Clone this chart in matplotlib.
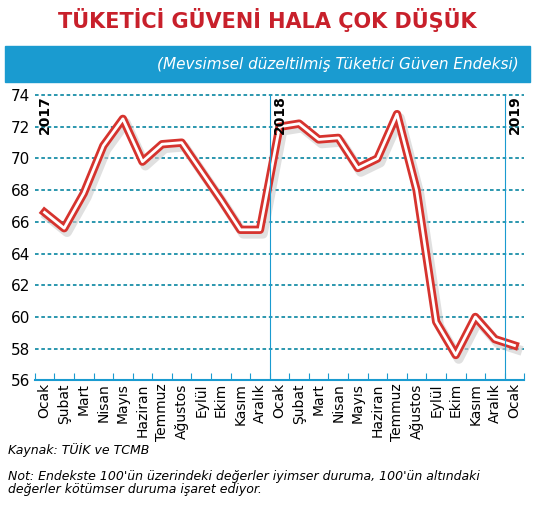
import matplotlib.pyplot as plt
import numpy as np

months = ["Ocak", "Şubat", "Mart", "Nisan", "Mayıs", "Haziran", "Temmuz", "Ağustos",
          "Eylül", "Ekim", "Kasım", "Aralık"]
labels = months + months + ["Ocak"]
values = [66.6, 65.6, 67.8, 70.8, 72.5, 69.8, 70.9, 71.0, 69.2, 67.4, 65.5, 65.5,
          72.0, 72.2, 71.2, 71.3, 69.4, 70.0, 72.8, 68.0, 59.7, 57.6, 60.0, 58.6, 58.2]
years = ["2017", "2018", "2019"]
yticks = [56, 58, 60, 62, 64, 66, 68, 70, 72, 74]

blue = "#1a9bd0"
fig = plt.figure(figsize=(5.35, 5.14), dpi=100)
fig.text(0.5, 0.962, "TÜKETİCİ GÜVENİ HALA ÇOK DÜŞÜK", ha="center", va="center",
         color="#c8202b", fontsize=15, fontweight="bold")
fig.patches.append(plt.Rectangle((0.01, 0.84), 0.98, 0.07, transform=fig.transFigure,
                                 color=blue))
fig.text(0.97, 0.875, "(Mevsimsel düzeltilmiş Tüketici Güven Endeksi)", ha="right",
         va="center", color="white", fontsize=11, style="italic")

ax = fig.add_axes([0.065, 0.26, 0.915, 0.555])
x = np.arange(len(values)) + 0.5
ax.plot(x + 0.15, np.array(values) - 0.25, color="#cccccc", lw=7, alpha=0.6,
        solid_joinstyle="round")
ax.plot(x, values, color="#d6332e", lw=6, solid_joinstyle="round")
ax.plot(x, values, color="white", lw=2, solid_joinstyle="round")
ax.set_xlim(0, len(values))
ax.set_ylim(56, 74)
ax.set_yticks(yticks)
ax.set_yticklabels([str(v) for v in yticks], fontsize=11)
for y in yticks[1:]:
    ax.axhline(y, color="#1a8fa8", lw=1.3, ls=(0, (2, 1.5)), zorder=0, clip_on=False)
ax.set_xticks(np.arange(len(values) + 1))
ax.set_xticklabels([])
ax.set_xticks(x, minor=True)
ax.set_xticklabels(labels, minor=True, rotation=90, fontsize=10)
ax.tick_params(axis="x", which="minor", length=0, pad=2)
ax.tick_params(axis="x", which="major", length=5, color=blue, direction="in")
ax.tick_params(axis="y", length=0)
for i, yr in zip([0, 12, 24], years):
    if i > 0:
        ax.axvline(i, color=blue, lw=0.8)
    ax.text(i + 0.15, 74, yr, rotation=90, va="top", ha="left", fontsize=10,
            fontweight="bold")
for s in ["top", "right", "left"]:
    ax.spines[s].set_visible(False)
ax.spines["bottom"].set_color(blue)
ax.spines["bottom"].set_linewidth(1.5)

fig.text(0.015, 0.125, "Kaynak: TÜİK ve TCMB", fontsize=9, style="italic", va="center")
fig.text(0.015, 0.06, "Not: Endekste 100'ün üzerindeki değerler iyimser duruma, 100'ün altındaki\n"
         "değerler kötümser duruma işaret ediyor.", fontsize=9, style="italic", va="center",
         linespacing=0.95)
fig.savefig("out.png")
